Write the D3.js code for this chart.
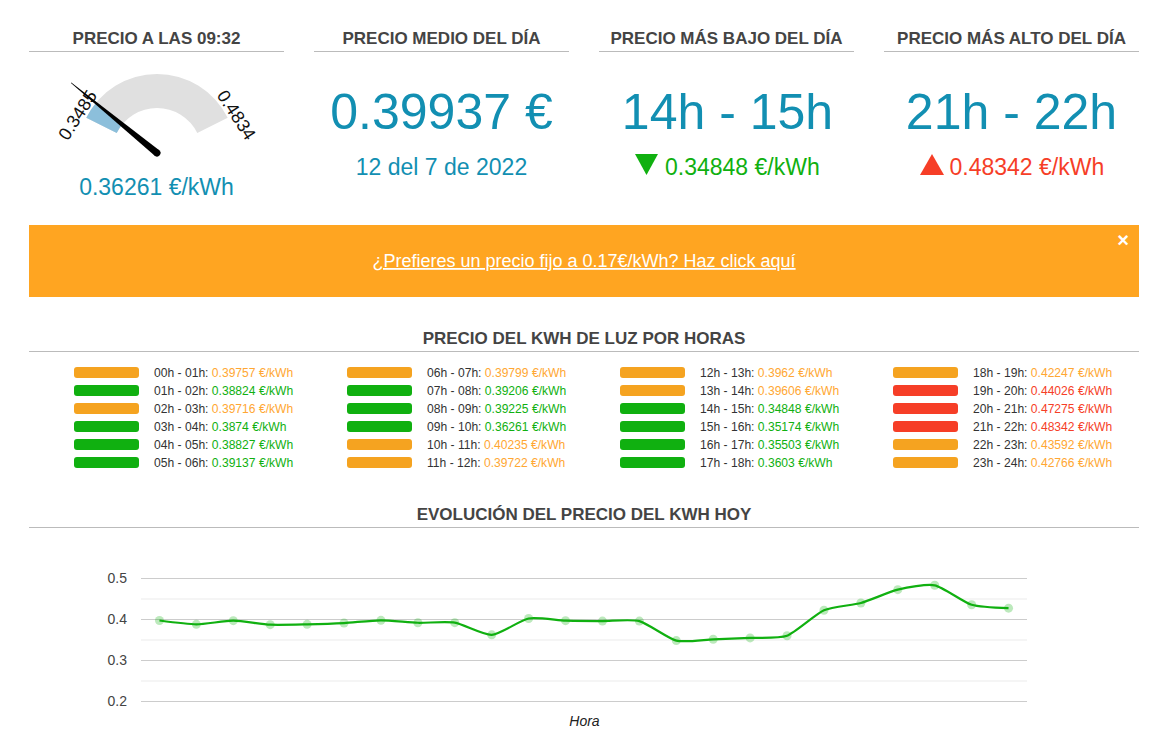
<!DOCTYPE html>
<html>
<head>
<meta charset="utf-8">
<title>Precio de la luz</title>
<script src="https://cdn.jsdelivr.net/npm/d3@7"></script>
<style>
body { margin: 0; background: #fff; overflow: hidden; }
svg { display: block; font-family: "Liberation Sans", Arial, sans-serif; }
.axisY path { display: none; }
.axisY text { font-size: 14px; fill: #444; }
</style>
</head>
<body>
<script>
var hours = ['00h - 01h','01h - 02h','02h - 03h','03h - 04h','04h - 05h','05h - 06h',
	'06h - 07h','07h - 08h','08h - 09h','09h - 10h','10h - 11h','11h - 12h',
	'12h - 13h','13h - 14h','14h - 15h','15h - 16h','16h - 17h','17h - 18h',
	'18h - 19h','19h - 20h','20h - 21h','21h - 22h','22h - 23h','23h - 24h'];
var prices = [0.39757,0.38824,0.39716,0.3874,0.38827,0.39137,
	0.39799,0.39206,0.39225,0.36261,0.40235,0.39722,
	0.3962,0.39606,0.34848,0.35174,0.35503,0.3603,
	0.42247,0.44026,0.47275,0.48342,0.43592,0.42766];
var levels = ['m','b','m','b','b','b',
	'm','b','b','b','m','m',
	'm','m','b','b','b','b',
	'm','a','a','a','m','m'];
var majorTicks = [0.2,0.3,0.4,0.5];
var minorTicks = [0.25,0.35,0.45];

var gaugeMin = 0.3485, gaugeMax = 0.4834, gaugeValue = 0.36261;

var summaryTitles = ['PRECIO A LAS 09:32','PRECIO MEDIO DEL DÍA','PRECIO MÁS BAJO DEL DÍA','PRECIO MÁS ALTO DEL DÍA'];
var summaryLeft = [29,314,599,884];
var summaryRight = [284,569,854,1139];

var blue = '#128fb2', green = '#10b010', red = '#f63e27', orange = '#f5a320';
var barColor = {m: orange, b: green, a: red};
var textColor = {m: '#ffa733', b: '#10b010', a: '#f63e27'};

var svg = d3.select('body').append('svg').attr('width', 1172).attr('height', 753);

function sectionTitle(text, x1, x2, base, ruleY) {
	svg.append('text').attr('x', (x1 + x2) / 2).attr('y', base)
		.attr('text-anchor', 'middle').attr('font-size', 17).attr('font-weight', 'bold')
		.attr('fill', '#444').text(text);
	svg.append('line').attr('x1', x1).attr('x2', x2).attr('y1', ruleY + .5).attr('y2', ruleY + .5)
		.attr('stroke', '#bbb');
}

function centerText(text, x, y, size, color) {
	return svg.append('text').attr('x', x).attr('y', y).attr('text-anchor', 'middle')
		.attr('font-size', size).attr('fill', color).text(text);
}

summaryTitles.forEach(function(t, i) {
	sectionTitle(t, summaryLeft[i], summaryRight[i], 44, 51);
});

// gauge
var gx = 157, gy = 153;
var angle = d3.scaleLinear().domain([gaugeMin, gaugeMax]).range([-63.5, 63.5]);
var rad = function(v) { return angle(v) * Math.PI / 180; };
var gauge = svg.append('g').attr('transform', 'translate(' + gx + ',' + gy + ')');
var arc = d3.arc().innerRadius(45).outerRadius(79);
gauge.append('path').attr('fill', '#e0e0e0')
	.attr('d', arc({startAngle: rad(gaugeMin), endAngle: rad(gaugeMax)}));
gauge.append('path').attr('fill', '#8cbfdb')
	.attr('d', arc({startAngle: rad(gaugeMin), endAngle: rad(gaugeValue)}));
[[gaugeMin, '0.3485', -1], [gaugeMax, '0.4834', 1]].forEach(function(d) {
	var a = angle(d[0]) + d[2] * 1.5;
	gauge.append('text')
		.attr('transform', 'rotate(' + a + ') translate(0,-82) rotate(' + (d[2] * -8) + ')')
		.attr('text-anchor', 'middle').attr('font-size', 18).attr('fill', '#111')
		.text(d[1]);
});
var needle = gauge.append('g').attr('transform', 'rotate(' + (angle(gaugeValue) - 0.5) + ')');
needle.append('path').attr('fill', '#000').attr('d', 'M-3.5,0 L-0.3,-111 L0.3,-111 L3.5,0 Z');
needle.append('circle').attr('r', 3.5).attr('fill', '#000');
centerText('0.36261 €/kWh', 156.5, 195, 23, blue);

// summary numbers
centerText('0.39937 €', 441.5, 128.5, 50, blue);
centerText('12 del 7 de 2022', 441.5, 175, 23, blue);
centerText('14h - 15h', 727.5, 128.5, 50, blue);
centerText('21h - 22h', 1011.5, 128.5, 50, blue);
svg.append('path').attr('fill', green).attr('d', 'M635,154 h23 l-11.5,21 Z');
svg.append('text').attr('x', 665).attr('y', 175).attr('font-size', 23).attr('fill', green).text('0.34848 €/kWh');
svg.append('path').attr('fill', red).attr('d', 'M920,175 h24 l-12,-21 Z');
svg.append('text').attr('x', 949.5).attr('y', 175).attr('font-size', 23).attr('fill', red).text('0.48342 €/kWh');

// banner
svg.append('rect').attr('x', 29).attr('y', 225).attr('width', 1110).attr('height', 72).attr('fill', '#ffa521');
centerText('¿Prefieres un precio fijo a 0.17€/kWh? Haz click aquí', 584, 267, 18, '#fff')
	.attr('text-decoration', 'underline');
centerText('×', 1123, 247, 20, '#fff').attr('font-weight', 'bold');

// price table
sectionTitle('PRECIO DEL KWH DE LUZ POR HORAS', 29, 1139, 344, 351);
var colX = d3.scaleLinear().domain([0, 3]).range([74, 893]);
var rowY = d3.scaleLinear().domain([0, 5]).range([372.5, 462.5]);
var rows = svg.append('g').selectAll('g').data(hours).enter().append('g')
	.attr('transform', function(d, i) {
		return 'translate(' + colX(Math.floor(i / 6)) + ',' + rowY(i % 6) + ')';
	});
rows.append('rect').attr('y', -5.5).attr('width', 65).attr('height', 11).attr('rx', 3)
	.attr('fill', function(d, i) { return barColor[levels[i]]; });
var rowText = rows.append('text').attr('x', 80).attr('y', 4).attr('font-size', 12.1).attr('fill', '#333');
rowText.append('tspan').text(function(d) { return d + ': '; });
rowText.append('tspan')
	.attr('fill', function(d, i) { return textColor[levels[i]]; })
	.text(function(d, i) { return prices[i] + ' €/kWh'; });

// evolution chart
sectionTitle('EVOLUCIÓN DEL PRECIO DEL KWH HOY', 29, 1139, 519.5, 527);
var x = d3.scaleBand().domain(hours).range([141, 1027]);
var y = d3.scaleLinear().domain([0.2, 0.5]).range([701, 578]);

svg.append('g').attr('class', 'axisY').attr('transform', 'translate(141,0)')
	.call(d3.axisLeft(y).tickValues(minorTicks).tickSize(-886).tickFormat(''))
	.selectAll('line').attr('stroke', '#ebebeb');
svg.append('g').attr('class', 'axisY').attr('transform', 'translate(141,0)')
	.call(d3.axisLeft(y).tickValues(majorTicks).tickSize(-886).tickPadding(14).tickFormat(d3.format('.1f')))
	.call(function(g) { g.selectAll('line').attr('stroke', '#ccc'); });

var cx = function(d, i) { return x(hours[i]) + x.bandwidth() / 2; };
var line = d3.line().x(cx).y(function(d) { return y(d) + .5; }).curve(d3.curveCardinal.tension(0.35));
svg.append('g').selectAll('circle').data(prices).enter().append('circle')
	.attr('cx', cx).attr('cy', function(d) { return y(d) + .5; }).attr('r', 4.5)
	.attr('fill', green).attr('fill-opacity', .28);
svg.append('path').datum(prices).attr('d', line).attr('fill', 'none')
	.attr('stroke', green).attr('stroke-width', 2.2);
centerText('Hora', 584.5, 726, 14, '#222').attr('font-style', 'italic');
</script>
</body>
</html>
